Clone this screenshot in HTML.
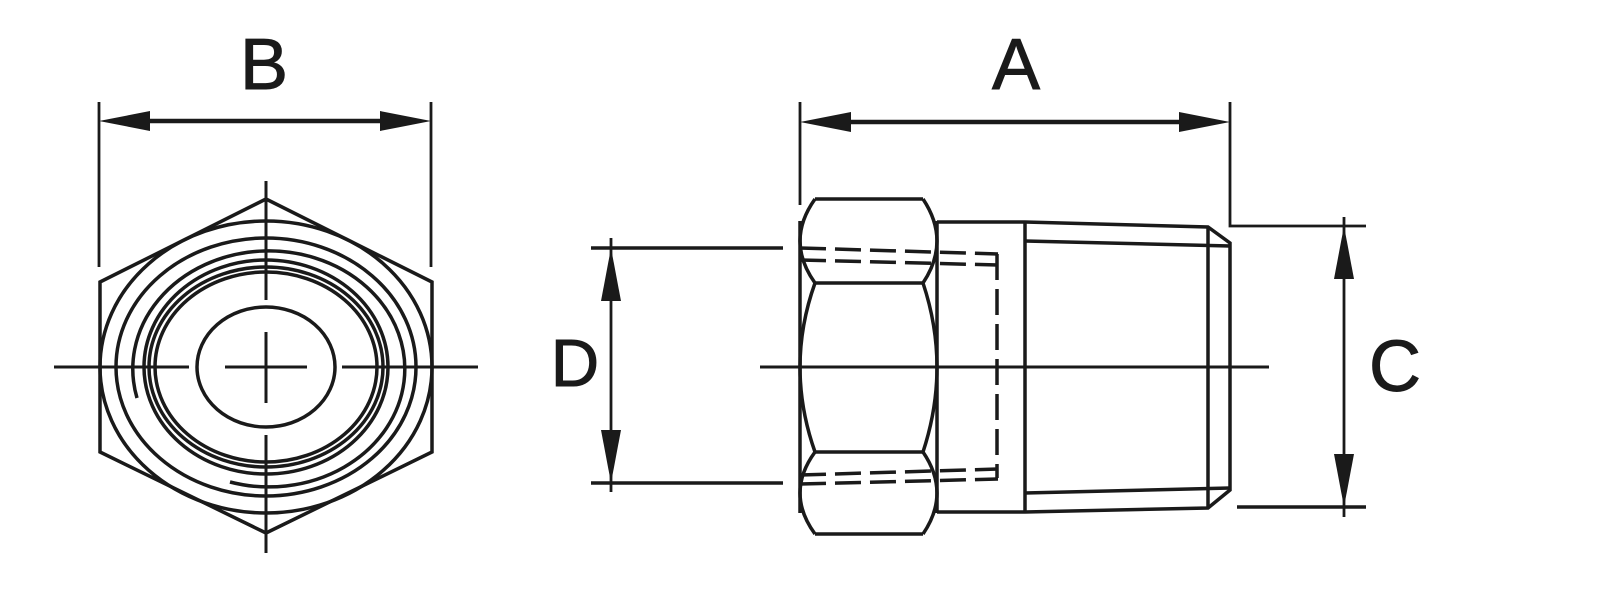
<!DOCTYPE html>
<html><head><meta charset="utf-8"><style>
html,body{margin:0;padding:0;background:#fff;}
svg{display:block;}
text{font-family:"Liberation Sans",sans-serif;fill:#1a1a1a;}
</style></head><body>
<svg width="1600" height="613" viewBox="0 0 1600 613" xmlns="http://www.w3.org/2000/svg">
<g stroke="#1a1a1a" stroke-width="3.5" fill="none" stroke-linecap="butt">
<!-- LEFT VIEW -->
<polygon points="266,199 432,282 432,452 266,533 100,452 100,282"/>
<ellipse cx="266" cy="367" rx="166" ry="146"/>
<ellipse cx="266" cy="367" rx="150" ry="129"/>
<path d="M137,398 A136 118 0 1 1 230,482"/>
<ellipse cx="266" cy="367" rx="122" ry="107"/>
<ellipse cx="266" cy="367" rx="117" ry="100"/>
<ellipse cx="266" cy="367" rx="111" ry="95"/>
<ellipse cx="266" cy="367" rx="69" ry="60"/>
<g stroke-width="3">
<line x1="54" y1="367" x2="189" y2="367"/>
<line x1="225" y1="367" x2="307" y2="367"/>
<line x1="342" y1="367" x2="478" y2="367"/>
<line x1="266" y1="181" x2="266" y2="300"/>
<line x1="266" y1="332" x2="266" y2="403"/>
<line x1="266" y1="435" x2="266" y2="553"/>
</g>
<!-- B dimension -->
<line x1="99" y1="102" x2="99" y2="267" stroke-width="2.8"/>
<line x1="431" y1="102" x2="431" y2="267" stroke-width="2.8"/>
<line x1="140" y1="121" x2="390" y2="121" stroke-width="4.5"/>
<!-- A dimension -->
<line x1="800" y1="102" x2="800" y2="205" stroke-width="2.8"/>
<polyline points="1230,102 1230,226 1366,226" stroke-width="2.8"/>
<line x1="840" y1="122" x2="1190" y2="122" stroke-width="4.5"/>
<!-- D dimension -->
<line x1="591" y1="248" x2="783" y2="248"/>
<line x1="591" y1="483" x2="783" y2="483"/>
<line x1="611" y1="238" x2="611" y2="492" stroke-width="2.8"/>
<!-- C dimension -->
<line x1="1237" y1="507" x2="1366" y2="507"/>
<line x1="1344" y1="217" x2="1344" y2="517" stroke-width="2.8"/>
<!-- centerline right -->
<line x1="760" y1="367" x2="1269" y2="367" stroke-width="3"/>
<!-- NUT -->
<line x1="815" y1="199" x2="923" y2="199"/>
<line x1="815" y1="534" x2="923" y2="534"/>
<line x1="815" y1="283" x2="923" y2="283"/>
<line x1="815" y1="452" x2="923" y2="452"/>
<line x1="800" y1="221" x2="800" y2="513"/>
<line x1="937" y1="221" x2="937" y2="513"/>
<path d="M815,199 Q785,241 815,283 Q785,367 815,452 Q785,493 815,534"/>
<path d="M923,199 Q951,241 923,283 Q951,367 923,452 Q951,493 923,534"/>
<!-- BODY -->
<polyline points="937,222 1025,222 1208,227 1230,243 1230,490 1208,508 1025,512 937,512"/>
<line x1="1025" y1="222" x2="1025" y2="512"/>
<line x1="1208" y1="227" x2="1208" y2="508"/>
<line x1="1025" y1="241" x2="1230" y2="246"/>
<line x1="1025" y1="493" x2="1230" y2="488"/>
<!-- dashed -->
<g stroke-dasharray="26,9">
<line x1="800" y1="248" x2="998" y2="254"/>
<line x1="800" y1="260" x2="998" y2="265"/>
<line x1="997" y1="254" x2="997" y2="478"/>
<line x1="800" y1="475" x2="998" y2="469"/>
<line x1="800" y1="484" x2="998" y2="479"/>
</g>
</g>
<!-- arrowheads -->
<g fill="#1a1a1a">
<polygon points="99,121 150,111 150,131"/>
<polygon points="431,121 380,111 380,131"/>
<polygon points="800,122 851,112 851,132"/>
<polygon points="1230,122 1179,112 1179,132"/>
<polygon points="611,248 601,301 621,301"/>
<polygon points="611,483 601,430 621,430"/>
<polygon points="1344,226 1334,279 1354,279"/>
<polygon points="1344,507 1334,454 1354,454"/>
</g>
<g stroke="#1a1a1a" stroke-width="1">
<text x="264" y="89" font-size="72" text-anchor="middle">B</text>
<text x="1016" y="89" font-size="72" text-anchor="middle">A</text>
<text x="575" y="386" font-size="67" text-anchor="middle">D</text>
<text x="1395" y="391" font-size="72" text-anchor="middle">C</text>
</g>
</svg>
</body></html>
